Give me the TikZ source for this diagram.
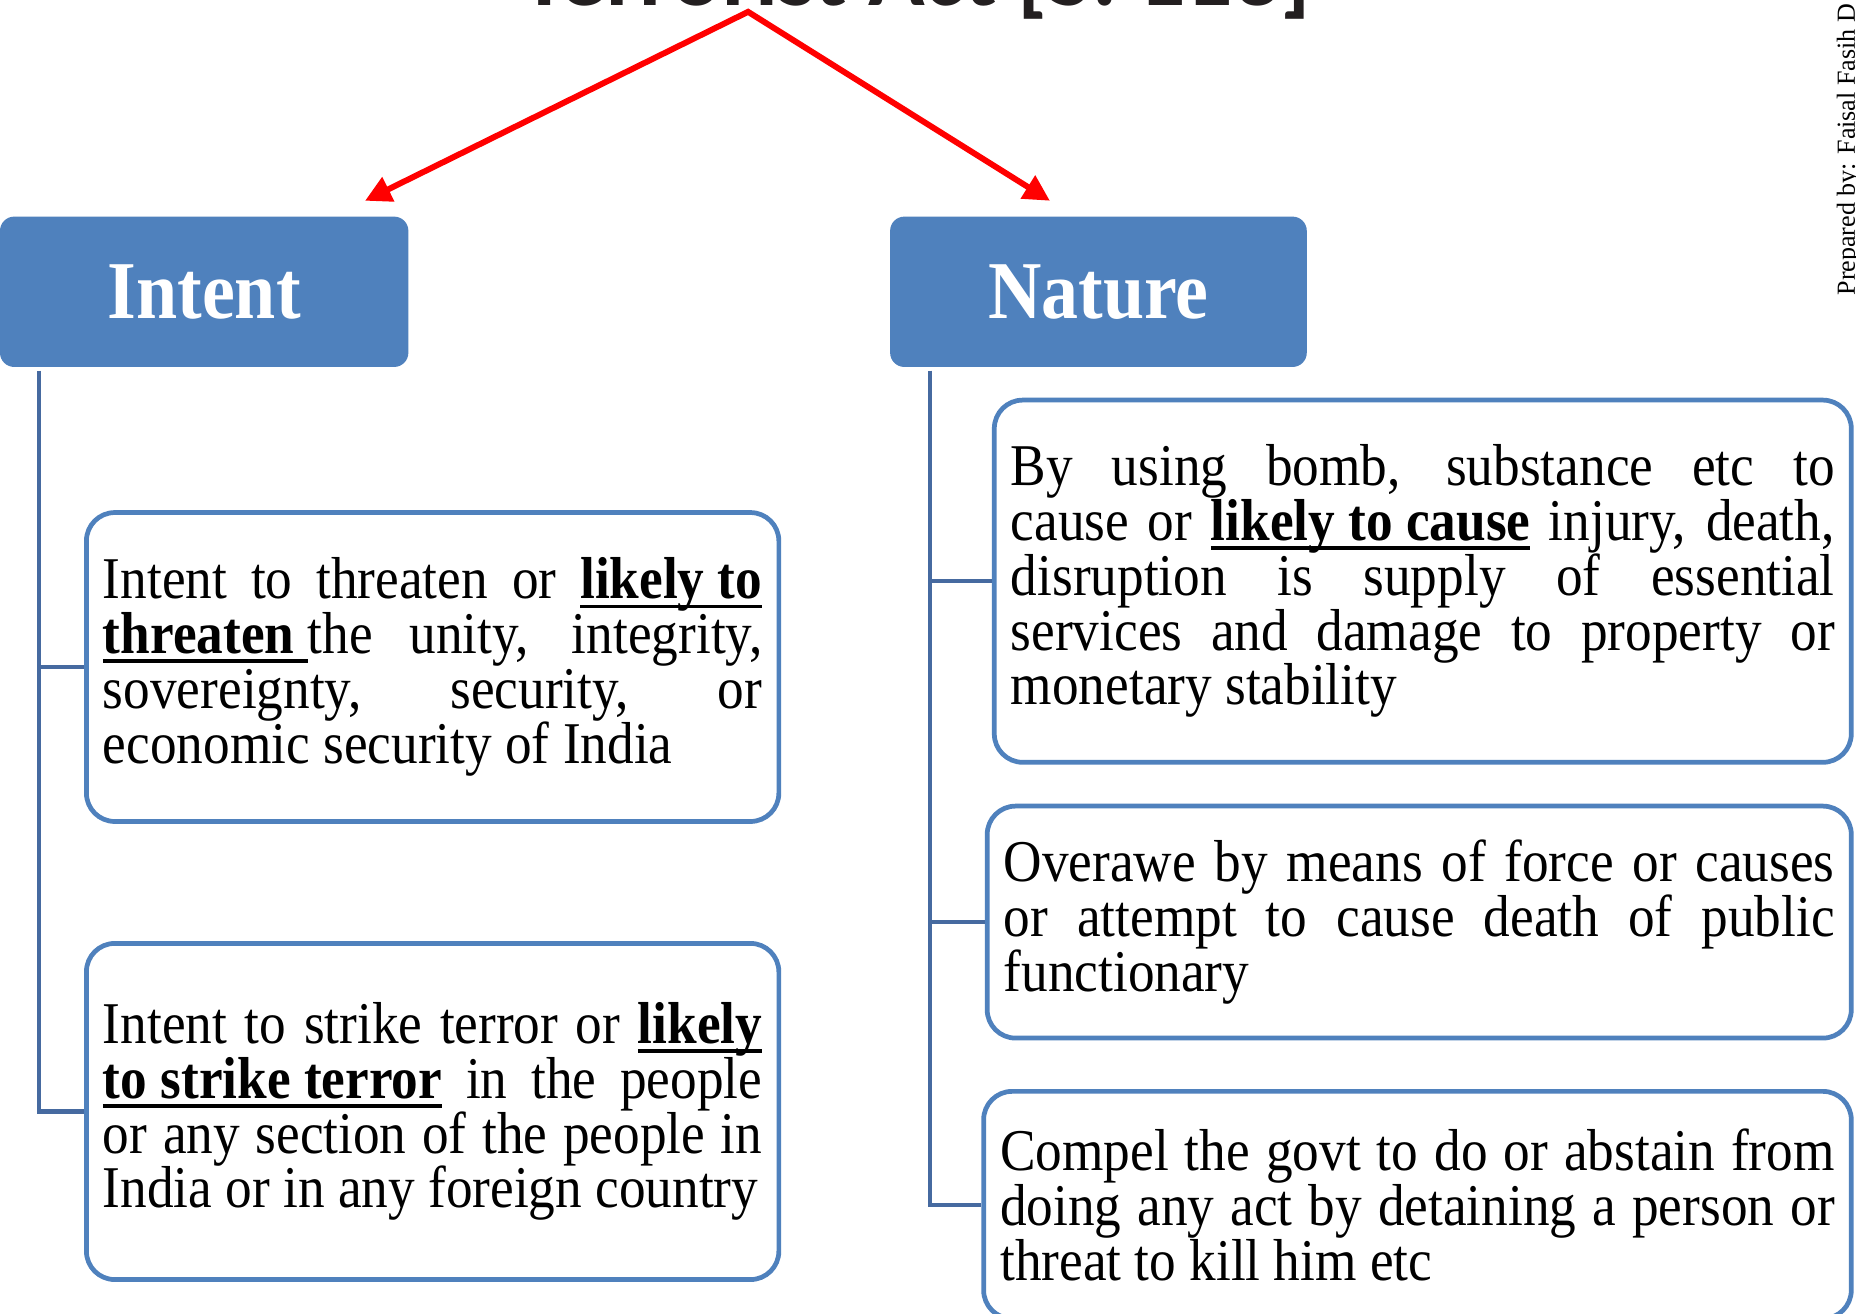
\documentclass[tikz,border=0pt]{standalone}
\usepackage{fontspec}
\setmainfont{Liberation Serif}[FakeStretch=0.9]
\newfontfamily\titlefont{Carlito}
\newfontfamily\prepfont{Liberation Serif}
\usetikzlibrary{arrows.meta}
\definecolor{boxblue}{RGB}{79,129,189}
\definecolor{trunkblue}{RGB}{70,106,160}
\definecolor{titlegray}{RGB}{35,31,32}
\tolerance=9999
\newsavebox{\ulsave}
\newcommand{\ulword}[1]{\sbox{\ulsave}{\bfseries #1}%
  \rlap{\rule[-4pt]{\wd\ulsave}{1.6pt}}\usebox{\ulsave}}

\begin{document}
\begin{tikzpicture}[x=0.5pt,y=-0.5pt,
  headbox/.style={fill=boxblue, rounded corners=6pt, text=white, minimum height=63.5pt,
    inner sep=0pt, font=\fontsize{34.7}{36}\selectfont\bfseries},
  textbox/.style={draw=boxblue, line width=2pt, rounded corners=12pt, fill=white,
    align=justify, inner xsep=7pt, inner ysep=0pt,
    font=\fontsize{25}{23.15}\selectfont},
  trunk/.style={draw=trunkblue, line width=1.75pt},
  redarrow/.style={draw=red, line width=2.5pt, line join=miter,
    {Triangle[length=11pt,width=11pt]}-{Triangle[length=11pt,width=11pt]}}]
\fill[white] (0,0) rectangle (1568,1110);
\useasboundingbox (0,0) rectangle (1568,1110);

% title, cut off by the page top
\node[anchor=base, inner sep=0pt, text=titlegray,
  font=\titlefont\bfseries\fontsize{39.5}{40}\selectfont] (title) at (774,4.5) {Terrorist Act [S. 113]};
\node[rotate=90, anchor=base west, inner sep=0pt,
  font=\prepfont\fontsize{11}{12}\selectfont] (prep) at (1567,250) {Prepared by: Faisal Fasih D};

% heads
\node[headbox, minimum width=172.5pt] (intent) at (172.5,246.5) {Intent};
\node[headbox, minimum width=176pt] (nature) at (928,246.5) {Nature};
\coordinate (apex) at (632,10);
\draw[redarrow] ([xshift=-18.5pt,yshift=6.5pt]intent.north east) -- (apex)
  -- ([xshift=-20.5pt,yshift=6.5pt]nature.north);

% intent side
\node[textbox, text width=278.5pt, minimum height=130.5pt] (int1) at (365.5,563.5)
  {Intent to threaten or \ulword{likely to}\linebreak
   \ulword{threaten\ }the unity, integrity,\linebreak
   sovereignty, security, or\linebreak
   economic security of India};
\node[textbox, text width=278.5pt, minimum height=142pt] (int2) at (365.5,939)
  {Intent to strike terror or \ulword{likely}\linebreak
   \ulword{to strike terror} in the people\linebreak
   or any section of the people in\linebreak
   India or in any foreign country};
\draw[trunk] ([xshift=16.5pt,yshift=-1.5pt]intent.south west) |- (int1.west);
\draw[trunk] ([xshift=16.5pt,yshift=-1.5pt]intent.south west) |- (int2.west);

% nature side
\node[textbox, text width=348pt, minimum height=153pt] (nat1) at (1202,491)
  {By using bomb, substance etc to\linebreak
   cause or \ulword{likely to cause} injury, death,\linebreak
   disruption is supply of essential\linebreak
   services and damage to property or\linebreak
   monetary stability};
\node[textbox, text width=351pt, minimum height=98pt] (nat2) at (1199,779)
  {Overawe by means of force or causes\linebreak
   or attempt to cause death of public\linebreak
   functionary};
\node[textbox, text width=352.5pt, minimum height=96pt] (nat3) at (1197.5,1018)
  {Compel the govt to do or abstain from\linebreak
   doing any act by detaining a person or\linebreak
   threat to kill him etc};
\draw[trunk] ([xshift=17pt,yshift=-1.5pt]nature.south west) |- (nat1.west);
\draw[trunk] ([xshift=17pt,yshift=-1.5pt]nature.south west) |- (nat2.west);
\draw[trunk] ([xshift=17pt,yshift=-1.5pt]nature.south west) |- (nat3.west);
\end{tikzpicture}
\end{document}
